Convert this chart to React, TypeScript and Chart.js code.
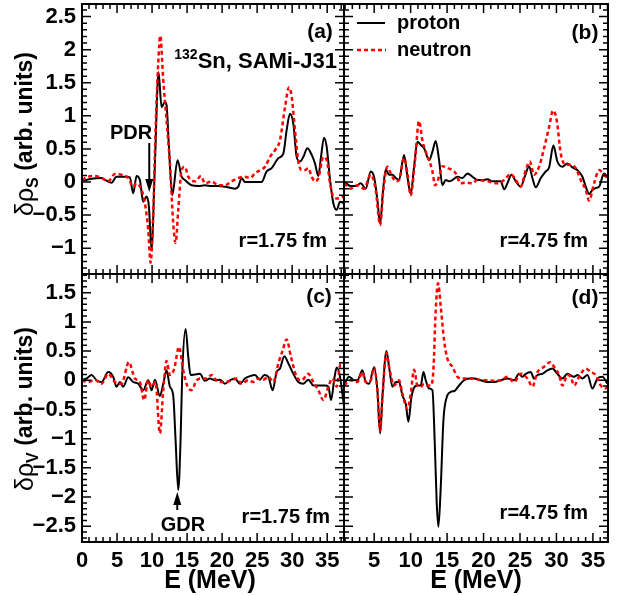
import React, { useEffect, useRef } from 'react';
import { Chart, registerables } from 'chart.js';
Chart.register(...registerables);

// ---------- data: energies (MeV) and transition densities (arb. units) ----------
// (a) isoscalar, r = 1.75 fm
const eA_p = [0,1.36,2.79,3.50,4.22,4.93,5.64,6.36,6.83,7.31,7.79,8.26,8.74,9.22,9.55,9.93,10.41,10.93,11.36,11.83,12.07,12.41,12.88,13.64,14.22,14.69,15.64,16.60,17.55,18.50,19.45,20.40,21.83,22.31,22.79,23.26,24.21,25.64,26.36,27.07,28.03,28.74,29.21,29.69,30.17,30.64,31.12,31.60,32.17,32.79,33.26,33.74,34.12,34.55,34.93,35.41,35.88,36.36,36.83,37.36];
const vA_p = [0.01,0.05,0.06,0.02,-0.01,0.08,0.08,0.08,0.07,-0.17,0.09,0.03,-0.30,-0.22,-0.37,-1.02,0.28,1.66,1.13,1.21,1.16,0.53,-0.20,0.33,0.08,0.03,-0.05,-0.06,-0.05,-0.06,-0.06,-0.07,-0.10,-0.07,0.06,0.0,0.0,0.0,0.16,0.21,0.36,0.43,0.78,1.03,0.88,0.38,0.31,0.38,0.51,0.41,0.28,0.09,0.38,0.67,0.53,0.03,-0.32,-0.42,-0.30,-0.32];
const eA_n = [0,0.88,1.83,2.79,3.74,4.69,5.64,6.60,7.31,7.79,8.50,8.98,9.45,9.79,10.17,10.50,10.88,11.17,11.60,12.07,12.55,13.02,13.36,13.74,14.22,14.69,15.17,16.12,16.98,17.55,18.50,19.45,20.40,21.36,22.31,23.26,23.98,24.69,25.40,26.12,26.83,27.55,28.26,28.98,29.55,29.93,30.41,30.88,31.36,31.83,32.31,32.79,33.26,33.74,34.45,34.93,35.41,35.88,36.60,37.36];
const vA_n = [0.03,0.08,0.09,0.06,0.01,0.12,0.11,0.06,-0.07,-0.02,-0.12,-0.32,-0.72,-1.22,-0.47,0.78,1.79,2.21,1.54,0.93,0.28,-0.62,-0.92,-0.42,0.18,0.23,0.08,0.01,0.09,-0.02,0.01,-0.05,-0.05,0.01,0.06,0.08,0.06,0.13,0.18,0.23,0.38,0.48,0.63,1.13,1.43,1.29,0.78,0.31,0.18,0.18,0.21,0.08,0.01,0.06,0.38,0.33,-0.02,-0.22,-0.25,-0.22];
// (b) isoscalar, r = 4.75 fm
const eB_p = [0.87,1.78,2.47,3.15,3.84,4.53,4.98,5.44,5.81,6.22,6.58,7.04,7.50,7.96,8.41,9.10,9.56,10.01,10.47,10.93,11.39,11.84,12.53,12.99,13.44,13.90,14.36,14.81,15.27,15.73,16.42,17.10,17.79,18.47,19.16,19.84,20.53,21.22,22.36,22.82,23.27,23.82,24.42,25.10,25.65,26.25,26.70,27.16,27.85,28.53,28.99,29.58,30.13,30.82,31.50,32.19,32.88,33.56,34.02,34.48,34.93,35.39,35.85,36.53,37.07];
const vB_p = [0.0,-0.06,-0.06,-0.02,-0.10,0.16,0.08,-0.27,-0.63,-0.12,0.19,0.11,0.11,0.06,0.03,0.41,0.08,-0.18,0.23,0.61,0.56,0.51,0.33,0.46,0.62,0.33,-0.05,0.03,0.01,0.03,0.08,0.06,0.13,0.08,0.03,0.03,0.04,0.01,0.01,-0.11,-0.02,0.11,0.01,-0.07,0.08,0.24,0.06,-0.08,0.06,0.16,0.22,0.55,0.31,0.23,0.28,0.22,0.18,0.08,-0.07,-0.18,-0.12,-0.09,-0.07,0.13,0.06];
const eB_n = [0.87,1.78,2.70,3.61,4.53,5.21,5.81,6.26,6.81,7.27,7.96,8.41,9.10,9.56,10.01,10.56,11.16,11.61,12.07,12.53,12.99,13.35,13.90,14.36,15.04,15.73,16.19,16.87,17.56,18.47,19.16,20.53,21.90,22.82,23.73,24.42,25.10,25.79,26.34,26.93,27.62,28.30,28.99,29.54,30.04,30.59,31.28,31.96,32.65,33.33,34.02,34.48,35.16,35.85,36.53,37.07];
const vB_n = [-0.02,-0.10,-0.05,-0.10,0.11,-0.12,-0.65,-0.12,0.23,0.13,0.01,0.03,0.36,0.13,-0.20,0.28,0.92,0.63,0.46,0.33,0.16,-0.05,0.08,0.24,0.21,0.18,0.13,-0.02,-0.01,-0.02,0.03,0.01,-0.02,0.03,0.12,0.03,-0.07,0.18,0.31,0.11,0.23,0.51,0.83,1.08,0.93,0.43,0.26,0.26,0.21,0.03,-0.12,-0.28,-0.02,0.18,0.11,0.05];
// (c) isovector, r = 1.75 fm
const eC_p = [0,0.64,1.36,2.07,2.79,3.74,4.45,4.93,5.41,5.88,6.60,7.31,8.03,8.74,9.45,9.93,10.41,11.12,11.60,12.07,12.55,13.02,13.36,13.74,14.07,14.31,14.79,15.17,15.50,16.12,16.83,17.55,18.26,18.98,19.69,20.40,21.12,21.83,22.55,23.26,23.98,24.69,25.40,26.02,26.60,27.21,27.79,28.26,28.88,29.45,30.17,30.88,31.60,32.31,33.02,33.74,34.69,35.17,35.55,36.02,36.36,36.83,37.36];
const vC_p = [0.01,0.03,0.09,0.0,-0.03,0.14,0.06,-0.11,-0.03,-0.11,0.05,-0.03,-0.06,-0.17,0.0,-0.17,0.01,-0.27,-0.06,0.17,-0.11,-0.26,-1.03,-1.88,-1.03,0.11,0.88,0.40,0.09,0.10,0.11,-0.01,0.03,0.0,0.01,-0.06,0.0,0.03,-0.06,0.03,0.07,0.09,0.01,0.09,0.06,-0.17,0.14,0.20,0.41,0.29,0.11,-0.03,-0.06,0.01,-0.09,-0.09,-0.09,-0.11,-0.34,0.03,0.22,0.06,-0.40];
const eC_n = [0,0.88,1.83,2.79,3.74,4.69,5.64,6.69,7.55,8.26,8.88,9.45,9.93,10.50,11.12,11.60,12.07,12.55,13.17,13.84,14.45,15.07,15.64,16.36,17.07,17.79,18.50,19.45,20.40,21.36,22.07,22.79,23.74,24.45,25.17,25.88,26.60,27.31,28.03,28.64,29.21,29.83,30.64,31.36,32.31,33.02,33.74,34.45,35.17,35.74,36.36,36.88,37.36];
const vC_n = [0.0,-0.03,0.01,-0.06,0.11,-0.03,-0.06,0.31,0.03,-0.03,-0.34,0.0,-0.11,-0.03,-0.91,-0.17,0.33,0.09,0.20,0.57,0.17,-0.11,-0.17,0.0,0.03,0.03,0.09,-0.03,-0.03,0.0,0.03,-0.06,0.0,-0.03,0.03,0.01,0.06,-0.03,0.29,0.51,0.70,0.40,0.06,0.0,0.11,-0.03,-0.17,-0.34,-0.11,0.03,-0.11,0.27,0.26];
// (d) isovector, r = 4.75 fm
const eD_p = [0.87,1.55,2.24,2.70,3.38,3.84,4.30,4.98,5.44,5.81,6.13,6.68,7.04,7.50,7.96,8.41,8.87,9.33,9.69,10.11,10.56,11.02,11.39,11.75,12.07,12.53,12.99,13.31,13.58,13.81,14.13,14.50,14.95,15.50,16.05,16.64,17.33,18.02,18.70,19.62,20.53,21.45,22.36,23.27,24.19,24.87,25.33,25.79,26.47,26.93,27.39,28.07,28.76,29.45,30.13,30.82,31.50,32.42,32.88,33.56,34.25,34.93,35.62,36.31,36.99];
const vD_p = [-0.09,0.06,0.0,0.0,0.17,-0.03,-0.06,0.22,-0.17,-0.91,-0.29,0.50,0.23,-0.11,-0.03,-0.03,-0.26,-0.40,-0.71,-0.29,-0.11,-0.09,-0.09,0.14,0.0,-0.14,-0.17,-1.08,-2.11,-2.51,-1.83,-0.68,-0.29,-0.20,-0.18,-0.09,0.0,0.03,0.03,0.0,-0.03,-0.03,0.0,0.03,0.0,0.11,0.06,0.11,0.14,0.03,0.09,0.11,0.17,0.20,0.11,0.03,0.11,0.06,0.09,0.03,0.09,-0.14,0.03,0.06,-0.06];
const eD_n = [0.87,1.78,2.70,3.38,3.84,4.53,4.98,5.44,5.81,6.13,6.68,7.04,7.73,8.41,8.87,9.56,10.01,10.47,10.93,11.39,11.84,12.30,12.76,13.12,13.44,13.76,14.13,14.59,15.04,15.73,16.42,17.10,17.79,18.70,19.62,20.53,21.45,22.36,23.27,24.19,25.10,26.02,26.70,27.39,28.30,29.13,29.68,30.36,30.82,31.50,31.96,32.42,33.10,34.02,34.71,35.39,36.08,36.76,37.07];
const vD_n = [-0.09,0.0,-0.03,0.14,-0.03,0.0,0.22,-0.17,-0.86,-0.29,0.47,0.23,-0.09,0.0,-0.23,-0.49,-0.23,0.18,-0.09,-0.11,-0.06,-0.09,-0.09,0.17,1.20,1.66,1.26,0.68,0.37,0.23,0.06,0.03,0.03,0.03,0.0,0.0,-0.01,0.0,0.06,-0.03,0.11,0.03,-0.11,0.14,0.23,0.31,0.23,0.09,-0.09,0.09,0.06,-0.09,0.06,0.20,0.14,0.09,-0.09,-0.14,-0.09];

// ---------- axes ----------
const xRangeLeft = [0, 37.4];
const xRangeRight = [0.86, 37.07];
const yRangeTop = [-1.39, 2.69];
const yRangeBottom = [-2.77, 1.82];
const xTicksLeft = [0, 5, 10, 15, 20, 25, 30, 35];
const xTicksRight = [5, 10, 15, 20, 25, 30, 35];
const yTicksTop = [-1, -0.5, 0, 0.5, 1, 1.5, 2, 2.5];
const yTicksBottom = [-2.5, -2, -1.5, -1, -0.5, 0, 0.5, 1, 1.5];
const PDR_E = 9.6;
const GDR_E = 13.6;

const FONT = '"Liberation Sans", Arial, Helvetica, sans-serif';
const fmt = (v: number) => (v < 0 ? '\u2212' + String(Math.abs(v)) : String(v));
const W = 626, H = 596;
const X0 = 82, XM = 344, X1 = 608, Y0 = 4, YM = 274, Y1 = 542;

function txt(ctx: CanvasRenderingContext2D, s: string, x: number, y: number, align: CanvasTextAlign, size: number, weight = 'bold') {
  ctx.font = `${weight} ${size}px ${FONT}`;
  ctx.textAlign = align;
  ctx.textBaseline = 'middle';
  ctx.fillStyle = '#000';
  ctx.fillText(s, x, y);
}

function arrow(ctx: CanvasRenderingContext2D, x: number, yFrom: number, yTip: number) {
  const dir = yTip > yFrom ? 1 : -1;
  ctx.strokeStyle = '#000';
  ctx.lineWidth = 2;
  ctx.beginPath();
  ctx.moveTo(x, yFrom);
  ctx.lineTo(x, yTip - dir * 10);
  ctx.stroke();
  ctx.fillStyle = '#000';
  ctx.beginPath();
  ctx.moveTo(x, yTip);
  ctx.lineTo(x - 4, yTip - dir * 13);
  ctx.lineTo(x + 4, yTip - dir * 13);
  ctx.closePath();
  ctx.fill();
}

function yTitle(ctx: CanvasRenderingContext2D, cx: number, cy: number, sub: string) {
  ctx.save();
  ctx.translate(cx, cy);
  ctx.rotate(-Math.PI / 2);
  ctx.fillStyle = '#000';
  ctx.textBaseline = 'middle';
  ctx.textAlign = 'left';
  const f1 = `normal 25px ${FONT}`;
  const f2 = `bold 16px ${FONT}`;
  const f3 = `bold 23px ${FONT}`;
  ctx.font = f1; const w1 = ctx.measureText('\u03b4\u03c1').width;
  ctx.font = f2; const w2 = ctx.measureText(sub).width;
  ctx.font = f3; const w3 = ctx.measureText(' (arb. units)').width;
  let x = -(w1 + w2 + w3) / 2;
  ctx.font = f1; ctx.fillText('\u03b4\u03c1', x, 0); x += w1;
  ctx.font = f2; ctx.fillText(sub, x, 8); x += w2;
  ctx.font = f3; ctx.fillText(' (arb. units)', x, 0);
  ctx.restore();
}

type Spec = {
  pad: { left: number; top: number; right: number; bottom: number };
  yWidth: number;
  xHeight: number;
  xRange: number[];
  yRange: number[];
  xTicks: number[];
  yTicks: number[];
  showX: boolean;
  showY: boolean;
  eP: number[]; vP: number[];
  eN: number[]; vN: number[];
  extra: (ctx: CanvasRenderingContext2D, chart: any) => void;
};

const pts = (e: number[], v: number[]) => e.map((x, i) => ({ x, y: v[i] }));

function Panel({ spec }: { spec: Spec }) {
  const ref = useRef<HTMLCanvasElement>(null);
  useEffect(() => {
    if (!ref.current) return;
    const framePlugin = {
      id: 'frameTicks',
      afterDraw(chart: any) {
        const { ctx, chartArea: a, scales } = chart;
        const xs = scales.x, ys = scales.y;
        ctx.save();
        ctx.strokeStyle = '#000';
        ctx.lineWidth = 1.5;
        ctx.beginPath();
        for (let e = Math.ceil(xs.min); e <= xs.max + 1e-9; e += 1) {
          const px = xs.getPixelForValue(e);
          const len = e % 5 === 0 ? 9 : 5;
          ctx.moveTo(px, a.bottom); ctx.lineTo(px, a.bottom - len);
          ctx.moveTo(px, a.top); ctx.lineTo(px, a.top + len);
        }
        const k0 = Math.ceil(ys.min * 10 - 1e-6), k1 = Math.floor(ys.max * 10 + 1e-6);
        for (let k = k0; k <= k1; k++) {
          const py = ys.getPixelForValue(k / 10);
          const len = k % 5 === 0 ? 9 : 5;
          ctx.moveTo(a.left, py); ctx.lineTo(a.left + len, py);
          ctx.moveTo(a.right, py); ctx.lineTo(a.right - len, py);
        }
        ctx.stroke();
        ctx.lineWidth = 2;
        ctx.strokeRect(a.left, a.top, a.right - a.left, a.bottom - a.top);
        spec.extra(ctx, chart);
        ctx.restore();
      },
    };
    const tickFont = { family: FONT, size: 22, weight: 'bold' as const };
    const zeroPad = (s: any) => { s.paddingTop = 0; s.paddingBottom = 0; s.paddingLeft = 0; s.paddingRight = 0; };
    const chart = new Chart(ref.current, {
      type: 'line',
      data: {
        datasets: [
          {
            label: 'neutron',
            data: pts(spec.eN, spec.vN),
            borderColor: '#ff0000',
            borderWidth: 2.5,
            borderDash: [4, 3],
            pointRadius: 0,
            fill: false,
            cubicInterpolationMode: 'monotone',
          },
          {
            label: 'proton',
            data: pts(spec.eP, spec.vP),
            borderColor: '#000000',
            borderWidth: 2,
            pointRadius: 0,
            fill: false,
            cubicInterpolationMode: 'monotone',
          },
        ],
      },
      options: {
        animation: false,
        responsive: false,
        maintainAspectRatio: false,
        events: [],
        layout: { padding: spec.pad },
        plugins: { legend: { display: false }, tooltip: { enabled: false }, title: { display: false } },
        scales: {
          x: {
            type: 'linear',
            min: spec.xRange[0],
            max: spec.xRange[1],
            grid: { display: false, drawTicks: false },
            border: { display: false },
            ticks: {
              display: spec.showX,
              font: tickFont,
              color: '#000',
              padding: 6,
              maxRotation: 0,
              autoSkip: false,
              callback: (v: any) => fmt(Number(v)),
            },
            afterBuildTicks: (s: any) => { s.ticks = spec.xTicks.map((value) => ({ value })); },
            afterFit: (s: any) => { s.height = spec.xHeight; zeroPad(s); },
          },
          y: {
            type: 'linear',
            min: spec.yRange[0],
            max: spec.yRange[1],
            grid: { display: false, drawTicks: false },
            border: { display: false },
            ticks: {
              display: spec.showY,
              font: tickFont,
              color: '#000',
              padding: 6,
              autoSkip: false,
              callback: (v: any) => fmt(Number(v)),
            },
            afterBuildTicks: (s: any) => { s.ticks = spec.yTicks.map((value) => ({ value })); },
            afterFit: (s: any) => { s.width = spec.yWidth; zeroPad(s); },
          },
        },
      } as any,
      plugins: [framePlugin],
    });
    return () => chart.destroy();
  }, []);
  return <canvas ref={ref} width={W} height={H} style={{ position: 'absolute', left: 0, top: 0, width: W, height: H }} />;
}

const specA: Spec = {
  pad: { left: 0, top: Y0, right: W - XM, bottom: H - YM },
  yWidth: X0, xHeight: 0,
  xRange: xRangeLeft, yRange: yRangeTop, xTicks: xTicksLeft, yTicks: yTicksTop,
  showX: false, showY: true,
  eP: eA_p, vP: vA_p, eN: eA_n, vN: vA_n,
  extra: (ctx, chart) => {
    txt(ctx, '(a)', 320, 32, 'center', 21);
    ctx.font = `bold 22px ${FONT}`;
    const main = 'Sn, SAMi-J31';
    const w = ctx.measureText(main).width;
    ctx.textAlign = 'right';
    ctx.textBaseline = 'alphabetic';
    ctx.fillStyle = '#000';
    ctx.fillText(main, 337, 68);
    ctx.font = `bold 14px ${FONT}`;
    ctx.fillText('132', 337 - w, 59);
    txt(ctx, 'r=1.75 fm', 327, 241, 'right', 20);
    txt(ctx, 'PDR', 131, 133, 'center', 20);
    arrow(ctx, chart.scales.x.getPixelForValue(PDR_E), 143, 192);
    yTitle(ctx, 26, 134, 'S');
  },
};

const specB: Spec = {
  pad: { left: XM, top: Y0, right: W - X1, bottom: H - YM },
  yWidth: 0, xHeight: 0,
  xRange: xRangeRight, yRange: yRangeTop, xTicks: xTicksRight, yTicks: yTicksTop,
  showX: false, showY: false,
  eP: eB_p, vP: vB_p, eN: eB_n, vN: vB_n,
  extra: (ctx) => {
    txt(ctx, '(b)', 585, 33, 'center', 21);
    txt(ctx, 'r=4.75 fm', 588, 241, 'right', 20);
    // legend
    ctx.lineWidth = 2;
    ctx.strokeStyle = '#000';
    ctx.setLineDash([]);
    ctx.beginPath(); ctx.moveTo(357, 23); ctx.lineTo(385, 23); ctx.stroke();
    ctx.lineWidth = 2.5;
    ctx.strokeStyle = '#ff0000';
    ctx.setLineDash([4, 3]);
    ctx.beginPath(); ctx.moveTo(357, 50); ctx.lineTo(386, 50); ctx.stroke();
    ctx.setLineDash([]);
    txt(ctx, 'proton', 397, 23, 'left', 20);
    txt(ctx, 'neutron', 397, 50, 'left', 20);
  },
};

const specC: Spec = {
  pad: { left: 0, top: YM, right: W - XM, bottom: 0 },
  yWidth: X0, xHeight: H - Y1,
  xRange: xRangeLeft, yRange: yRangeBottom, xTicks: xTicksLeft, yTicks: yTicksBottom,
  showX: true, showY: true,
  eP: eC_p, vP: vC_p, eN: eC_n, vN: vC_n,
  extra: (ctx, chart) => {
    txt(ctx, '(c)', 319, 297, 'center', 21);
    txt(ctx, 'r=1.75 fm', 330, 517, 'right', 20);
    txt(ctx, 'GDR', 183, 525, 'center', 20);
    arrow(ctx, chart.scales.x.getPixelForValue(GDR_E), 510, 492);
    yTitle(ctx, 26, 409, 'V');
    txt(ctx, 'E (MeV)', 210, 581, 'center', 25);
  },
};

const specD: Spec = {
  pad: { left: XM, top: YM, right: W - X1, bottom: 0 },
  yWidth: 0, xHeight: H - Y1,
  xRange: xRangeRight, yRange: yRangeBottom, xTicks: xTicksRight, yTicks: yTicksBottom,
  showX: true, showY: false,
  eP: eD_p, vP: vD_p, eN: eD_n, vN: vD_n,
  extra: (ctx) => {
    txt(ctx, '(d)', 585, 298, 'center', 21);
    txt(ctx, 'r=4.75 fm', 588, 513, 'right', 20);
    txt(ctx, 'E (MeV)', 476, 581, 'center', 25);
  },
};

export default function App() {
  return (
    <div style={{ position: 'fixed', left: 0, top: 0, width: W, height: H, background: '#fff' }}>
      <Panel spec={specA} />
      <Panel spec={specB} />
      <Panel spec={specC} />
      <Panel spec={specD} />
    </div>
  );
}
